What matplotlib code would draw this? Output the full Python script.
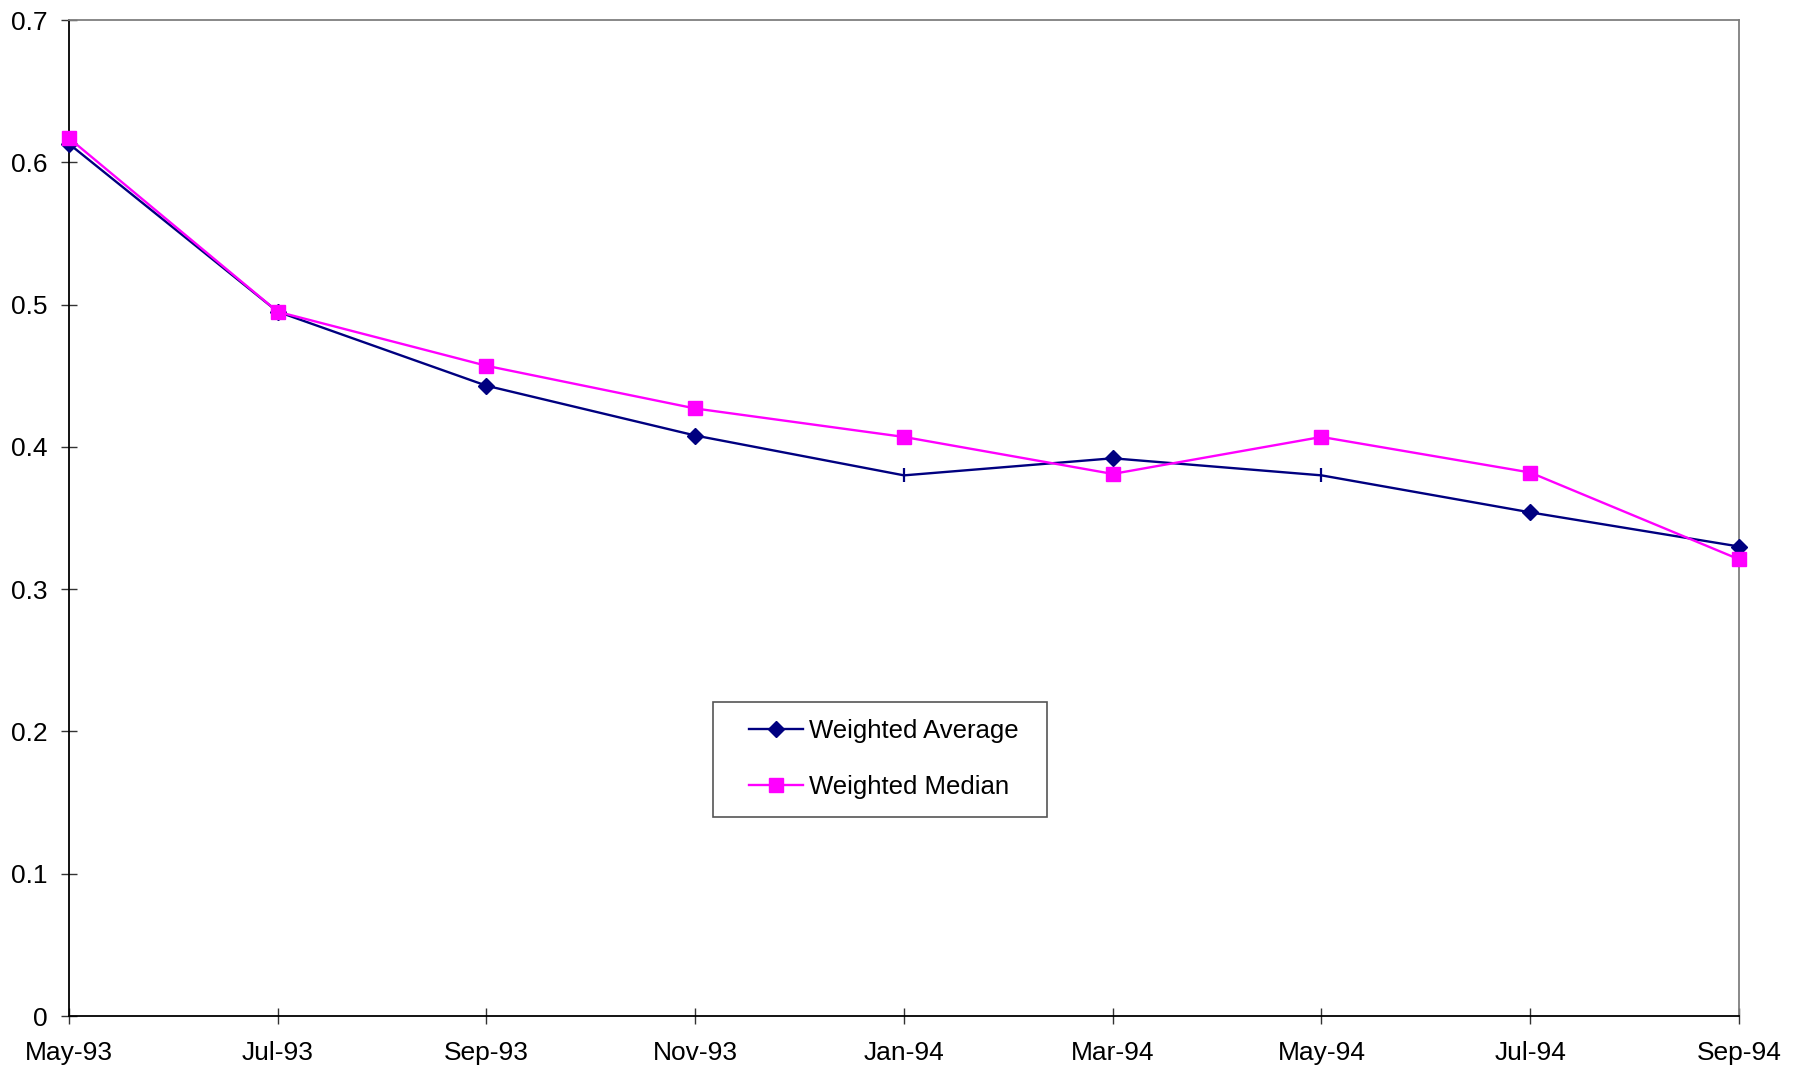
import matplotlib
matplotlib.use("Agg")
import matplotlib.pyplot as plt
from matplotlib.patches import Rectangle
import numpy as np

# ---------------- data ----------------
months = ["May-93", "Jul-93", "Sep-93", "Nov-93", "Jan-94",
          "Mar-94", "May-94", "Jul-94", "Sep-94"]
weighted_average = [0.613, 0.495, 0.443, 0.408, 0.380, 0.392, 0.380, 0.354, 0.330]
weighted_median = [0.617, 0.495, 0.457, 0.427, 0.407, 0.381, 0.407, 0.382, 0.321]
# points of the average series drawn without the diamond (only a tick mark)
avg_plain_points = [4, 6]
yticks = [0, 0.1, 0.2, 0.3, 0.4, 0.5, 0.6, 0.7]

NAVY = "#000080"
MAGENTA = "#FF00FF"

plt.rcParams["font.family"] = ["Liberation Sans", "DejaVu Sans"]

fig = plt.figure(figsize=(18.06, 10.72), dpi=100)
ax = fig.add_axes([0.0382, 0.0522, 0.9247, 0.9291])

x = np.arange(len(months))
diamond_idx = [i for i in range(len(months)) if i not in avg_plain_points]

ax.plot(x, weighted_average, color=NAVY, lw=1.7, marker="D", ms=8.5,
        markevery=diamond_idx, mec=NAVY, mfc=NAVY, label="Weighted Average",
        zorder=3, clip_on=False)
ax.plot(x[avg_plain_points], [weighted_average[i] for i in avg_plain_points],
        ls="none", marker="|", ms=10, mew=1.6, color=NAVY, zorder=3)
ax.plot(x, weighted_median, color=MAGENTA, lw=1.7, marker="s", ms=9.5,
        mec=MAGENTA, mfc=MAGENTA, label="Weighted Median", zorder=4,
        clip_on=False)

ax.set_xlim(0, len(months) - 1)
ax.set_ylim(0, 0.7)
ax.set_xticks(x)
ax.set_xticklabels(months)
ax.set_yticks(yticks)
ax.set_yticklabels([f"{v:g}" for v in yticks])

ax.tick_params(axis="both", direction="inout", length=11, width=1,
               labelsize=19, color="#333333")
ax.tick_params(axis="x", pad=12.5)
ax.tick_params(axis="y", pad=10)

for side in ["left", "bottom"]:
    ax.spines[side].set_color("black")
    ax.spines[side].set_linewidth(1.3)
for side in ["top", "right"]:
    ax.spines[side].set_color("#7f7f7f")
    ax.spines[side].set_linewidth(1.3)

# legend box drawn separately so the inner padding can match
ax.add_patch(Rectangle((0.3854, 0.1995), 0.2001, 0.1161, transform=ax.transAxes,
                       facecolor="white", edgecolor="#555555", lw=1.2,
                       zorder=5, clip_on=False))
leg = ax.legend(loc="upper left", bbox_to_anchor=(0.407, 0.2986),
                fontsize=18.5, frameon=False,
                handlelength=2.1, handletextpad=0.25, borderpad=0,
                labelspacing=1.27, borderaxespad=0)
leg.set_zorder(6)

fig.savefig("out.png", dpi=100, facecolor="white")
